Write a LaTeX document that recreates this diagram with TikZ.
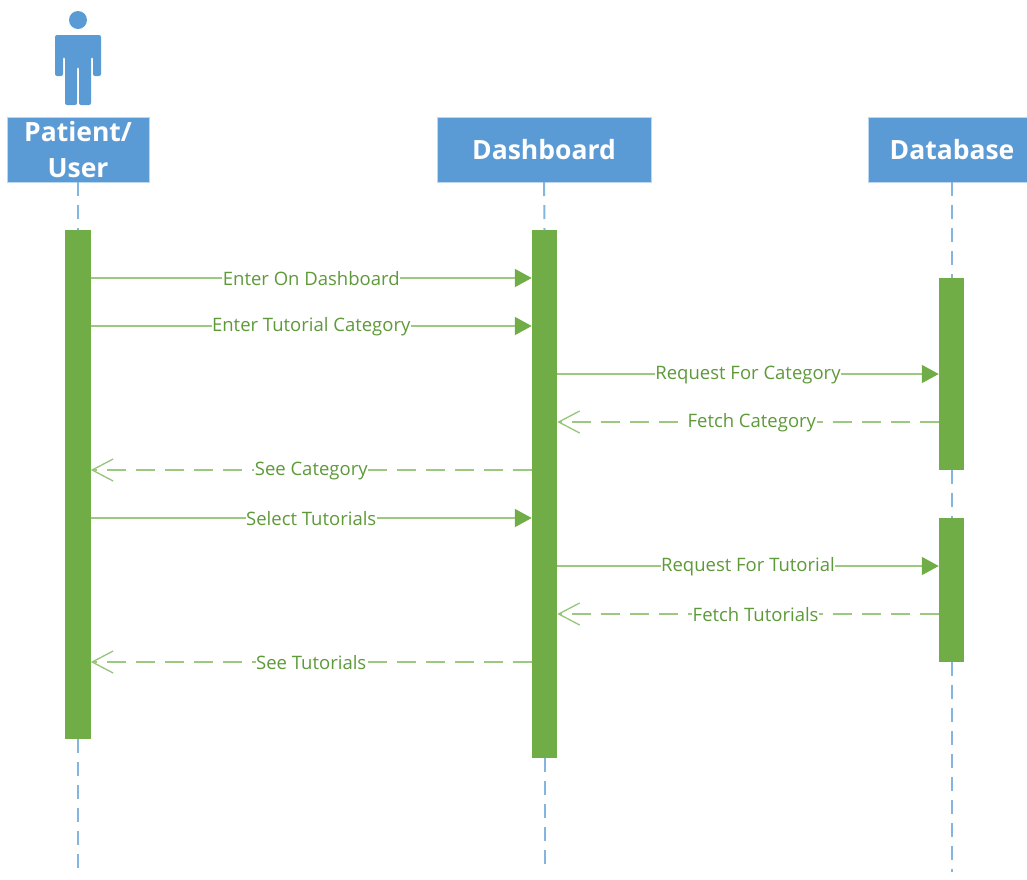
\documentclass[tikz,border=0pt]{standalone}
\usepackage{fontspec}
\setmainfont{Open Sans}
\usepackage{tikz}
\usetikzlibrary{arrows.meta}
\definecolor{headblue}{HTML}{5B9BD5}
\definecolor{barGreen}{HTML}{70AD47}
\definecolor{lineGreen}{HTML}{9CC97F}
\definecolor{textGreen}{HTML}{5E9A3A}

\begin{document}
\begin{tikzpicture}[
x=1pt, y=-1pt,
   H/.style = {rectangle, fill=headblue, text=white, draw=headblue!40!white, line width=0.4pt,
               font=\bfseries\fontsize{26.5}{36}\selectfont, align=center,
               minimum height=65pt, inner sep=0pt, outer sep=0pt},% heads of the lifelines
 Bar/.style = {rectangle, fill=barGreen, minimum width=25.5pt, inner sep=0pt, outer sep=0pt},
life/.style = {headblue!75!white, line width=2pt, dash pattern=on 14pt off 9pt},
 msg/.style = {lineGreen, line width=2pt, -{Triangle[length=17pt,width=18pt,color=barGreen]}},
 ret/.style = {lineGreen, line width=2pt, dash pattern=on 19pt off 10pt,
               -{Straight Barb[length=21pt,width=22pt,line width=1.3pt,color=lineGreen!85!barGreen]}},
 lab/.style = {fill=white, text=textGreen, font=\fontsize{18.5}{20}\selectfont,
               inner xsep=0.5pt, inner ysep=0pt, yshift=-1pt},
                        ]
\useasboundingbox (0,0) rectangle (1027,879);
% heads
\node[H, minimum width=142pt] (patient)   at (78,149.5)  {Patient/\\User};
\node[H, minimum width=214pt] (dashboard) at (544,149.5) {Dashboard};
\node[H, minimum width=159pt] (database)  at (947.5,149.5) {\hspace*{9pt}Database};
% activation bars
\node[Bar, minimum height=509pt] (patientbar) at (78,484.5)    {};
\node[Bar, minimum height=528pt] (dashbar)    at (544.5,494)   {};
\node[Bar, minimum height=192pt] (dbbarA)     at (951.5,374)   {};
\node[Bar, minimum height=144pt] (dbbarB)     at (951.5,590)   {};
% free ends of the lifelines
\coordinate (patientend) at (78,872);
\coordinate (dashend)    at (544.5,872);
\coordinate (dbend)      at (951.5,872);
\draw[life] (patient.south)    -- (patientbar.north);
\draw[life] (patientbar.south) -- (patientend);
\draw[life] (dashboard.south)  -- (dashbar.north);
\draw[life] (dashbar.south)    -- (dashend);
\draw[life] (database.south -| dbbarA) -- (dbbarA.north);
\draw[life] (dbbarA.south)     -- (dbbarB.north);
\draw[life] (dbbarB.south)     -- (dbend);
% the person
\fill[headblue] (78,20) circle (9);
\fill[headblue, rounded corners=2pt] (55,35) -- (101,35) -- (101,76) -- (93,76) -- (93,57)
    -- (91,57) -- (91,105) -- (79,105) -- (79,67) -- (77,67) -- (77,105) -- (65,105)
    -- (65,57) -- (63,57) -- (63,76) -- (55,76) -- cycle;
% messages
\foreach \from/\to/\y/\txt in {patientbar.east/dashbar.west/278/Enter On Dashboard,
    patientbar.east/dashbar.west/326/Enter Tutorial Category,
    dashbar.east/dbbarA.west/374/Request For Category,
    patientbar.east/dashbar.west/518/Select Tutorials,
    dashbar.east/dbbarB.west/566/Request For Tutorial}
{
    \coordinate (m\y) at (0,\y);
    \draw[msg] (\from |- m\y) -- node[lab] {\txt} (\to |- m\y);
}
\foreach \from/\to/\y/\where/\txt in {dbbarA.west/dashbar.east/422/0.49/Fetch Category,
    dashbar.west/patientbar.east/470/0.5/See Category,
    dbbarB.west/dashbar.east/614/0.48/Fetch Tutorials,
    dashbar.west/patientbar.east/662/0.5/See Tutorials}
{
    \coordinate (m\y) at (0,\y);
    \draw[ret] (\from |- m\y) -- node[lab, pos=\where] {\txt} (\to |- m\y);
}
\end{tikzpicture}
\end{document}
